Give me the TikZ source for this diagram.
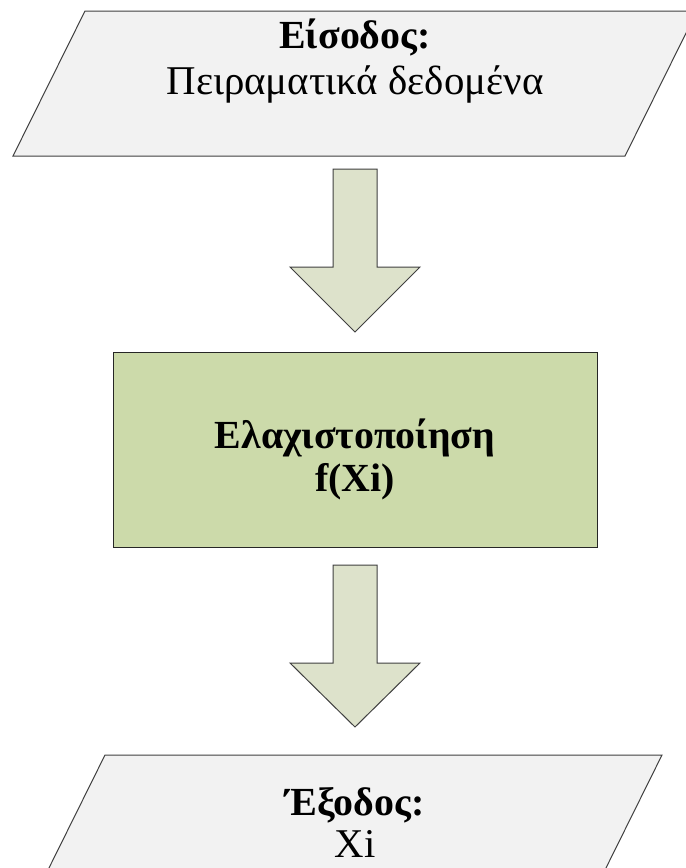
\documentclass[tikz,border=0pt]{standalone}
\usepackage{fontspec}
\setmainfont{Liberation Serif}
\definecolor{iofill}{HTML}{F2F2F2}
\definecolor{procfill}{HTML}{CCDAAA}
\definecolor{arrowfill}{HTML}{DDE2CB}
\definecolor{edge}{HTML}{404040}
\tikzset{
  iobox/.style={fill=iofill, draw=edge, line width=1bp, line join=miter},
  procbox/.style={fill=procfill, draw=black!85, line width=1bp},
  blockarrow/.style={fill=arrowfill, draw=edge, line width=1bp, line join=miter},
  txt/.style={anchor=base, inner sep=0pt, font=\fontsize{41}{46}\selectfont},
  btxt/.style={txt, font=\fontsize{40}{46}\selectfont\bfseries},
}
\begin{document}
\begin{tikzpicture}[x=1bp, y=-1bp]
  \clip (0,0) rectangle (686,868);
  \fill[white] (0,0) rectangle (686,868);

  % input parallelogram
  \draw[iobox] (13,156) -- (625,156) -- (697,11) -- (85,11) -- cycle;
  \node[btxt] (inhead) at (355,48) {Είσοδος:};
  \node[txt] (inbody) at (355,94) {Πειραματικά δεδομένα};

  % first block arrow
  \coordinate (a1) at (355,169);
  \draw[blockarrow] (a1) ++(-22,0) -- ++(0,98) -- ++(-43,0) -- ++(65,65)
    -- ++(65,-65) -- ++(-43,0) -- ++(0,-98) -- cycle;

  % process box
  \draw[procbox] (113,352) rectangle (597,547);
  \node[btxt] (prochead) at (355,448) {Ελαχιστοποίηση};
  \node[btxt] (procbody) at (355,491) {f(Xi)};

  % second block arrow
  \coordinate (a2) at (355,565);
  \draw[blockarrow] (a2) ++(-22,0) -- ++(0,98) -- ++(-43,0) -- ++(65,64)
    -- ++(65,-64) -- ++(-43,0) -- ++(0,-98) -- cycle;

  % output parallelogram
  \draw[iobox] (105,755) -- (662,755) -- (600,880) -- (43,880) -- cycle;
  \node[btxt] (outhead) at (355,815) {Έξοδος:};
  \node[txt] (outbody) at (355,857) {Xi};
\end{tikzpicture}
\end{document}
